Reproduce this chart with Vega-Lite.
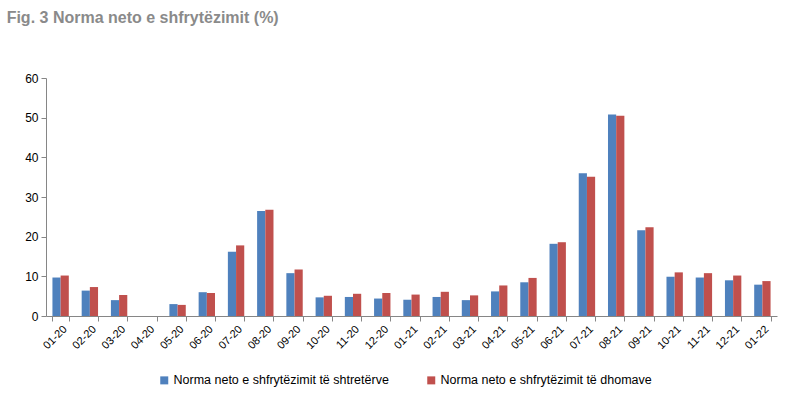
{
  "$schema": "https://vega.github.io/schema/vega-lite/v6.json",
  "autosize": "none",
  "width": 731,
  "height": 238,
  "padding": {"left": 46, "top": 78, "right": 15, "bottom": 97},
  "background": "white",
  "title": {
    "text": "Fig. 3 Norma neto e shfrytëzimit (%)",
    "anchor": "start",
    "frame": "bounds",
    "offset": 46,
    "dx": -18,
    "font": "Liberation Sans",
    "fontSize": 16,
    "fontWeight": "bold",
    "color": "#8a8a8a"
  },
  "config": {
    "view": {"stroke": null},
    "font": "Liberation Sans"
  },
  "data": {
    "values": [
      {"muaji": "01-20", "seria": "Norma neto e shfrytëzimit të shtretërve", "vlera": 9.7},
      {"muaji": "01-20", "seria": "Norma neto e shfrytëzimit të dhomave", "vlera": 10.2},
      {"muaji": "02-20", "seria": "Norma neto e shfrytëzimit të shtretërve", "vlera": 6.4},
      {"muaji": "02-20", "seria": "Norma neto e shfrytëzimit të dhomave", "vlera": 7.3},
      {"muaji": "03-20", "seria": "Norma neto e shfrytëzimit të shtretërve", "vlera": 4.0},
      {"muaji": "03-20", "seria": "Norma neto e shfrytëzimit të dhomave", "vlera": 5.3},
      {"muaji": "04-20", "seria": "Norma neto e shfrytëzimit të shtretërve", "vlera": 0},
      {"muaji": "04-20", "seria": "Norma neto e shfrytëzimit të dhomave", "vlera": 0},
      {"muaji": "05-20", "seria": "Norma neto e shfrytëzimit të shtretërve", "vlera": 3.0},
      {"muaji": "05-20", "seria": "Norma neto e shfrytëzimit të dhomave", "vlera": 2.8},
      {"muaji": "06-20", "seria": "Norma neto e shfrytëzimit të shtretërve", "vlera": 6.0},
      {"muaji": "06-20", "seria": "Norma neto e shfrytëzimit të dhomave", "vlera": 5.8},
      {"muaji": "07-20", "seria": "Norma neto e shfrytëzimit të shtretërve", "vlera": 16.2},
      {"muaji": "07-20", "seria": "Norma neto e shfrytëzimit të dhomave", "vlera": 17.8},
      {"muaji": "08-20", "seria": "Norma neto e shfrytëzimit të shtretërve", "vlera": 26.5},
      {"muaji": "08-20", "seria": "Norma neto e shfrytëzimit të dhomave", "vlera": 26.8},
      {"muaji": "09-20", "seria": "Norma neto e shfrytëzimit të shtretërve", "vlera": 10.8},
      {"muaji": "09-20", "seria": "Norma neto e shfrytëzimit të dhomave", "vlera": 11.7},
      {"muaji": "10-20", "seria": "Norma neto e shfrytëzimit të shtretërve", "vlera": 4.7},
      {"muaji": "10-20", "seria": "Norma neto e shfrytëzimit të dhomave", "vlera": 5.1},
      {"muaji": "11-20", "seria": "Norma neto e shfrytëzimit të shtretërve", "vlera": 4.8},
      {"muaji": "11-20", "seria": "Norma neto e shfrytëzimit të dhomave", "vlera": 5.6},
      {"muaji": "12-20", "seria": "Norma neto e shfrytëzimit të shtretërve", "vlera": 4.4},
      {"muaji": "12-20", "seria": "Norma neto e shfrytëzimit të dhomave", "vlera": 5.8},
      {"muaji": "01-21", "seria": "Norma neto e shfrytëzimit të shtretërve", "vlera": 4.1},
      {"muaji": "01-21", "seria": "Norma neto e shfrytëzimit të dhomave", "vlera": 5.4},
      {"muaji": "02-21", "seria": "Norma neto e shfrytëzimit të shtretërve", "vlera": 4.8},
      {"muaji": "02-21", "seria": "Norma neto e shfrytëzimit të dhomave", "vlera": 6.1},
      {"muaji": "03-21", "seria": "Norma neto e shfrytëzimit të shtretërve", "vlera": 4.0},
      {"muaji": "03-21", "seria": "Norma neto e shfrytëzimit të dhomave", "vlera": 5.2},
      {"muaji": "04-21", "seria": "Norma neto e shfrytëzimit të shtretërve", "vlera": 6.2},
      {"muaji": "04-21", "seria": "Norma neto e shfrytëzimit të dhomave", "vlera": 7.7},
      {"muaji": "05-21", "seria": "Norma neto e shfrytëzimit të shtretërve", "vlera": 8.5},
      {"muaji": "05-21", "seria": "Norma neto e shfrytëzimit të dhomave", "vlera": 9.6},
      {"muaji": "06-21", "seria": "Norma neto e shfrytëzimit të shtretërve", "vlera": 18.2},
      {"muaji": "06-21", "seria": "Norma neto e shfrytëzimit të dhomave", "vlera": 18.6},
      {"muaji": "07-21", "seria": "Norma neto e shfrytëzimit të shtretërve", "vlera": 36.0},
      {"muaji": "07-21", "seria": "Norma neto e shfrytëzimit të dhomave", "vlera": 35.1},
      {"muaji": "08-21", "seria": "Norma neto e shfrytëzimit të shtretërve", "vlera": 50.8},
      {"muaji": "08-21", "seria": "Norma neto e shfrytëzimit të dhomave", "vlera": 50.5},
      {"muaji": "09-21", "seria": "Norma neto e shfrytëzimit të shtretërve", "vlera": 21.6},
      {"muaji": "09-21", "seria": "Norma neto e shfrytëzimit të dhomave", "vlera": 22.4},
      {"muaji": "10-21", "seria": "Norma neto e shfrytëzimit të shtretërve", "vlera": 9.9},
      {"muaji": "10-21", "seria": "Norma neto e shfrytëzimit të dhomave", "vlera": 11.0},
      {"muaji": "11-21", "seria": "Norma neto e shfrytëzimit të shtretërve", "vlera": 9.7},
      {"muaji": "11-21", "seria": "Norma neto e shfrytëzimit të dhomave", "vlera": 10.8},
      {"muaji": "12-21", "seria": "Norma neto e shfrytëzimit të shtretërve", "vlera": 9.0},
      {"muaji": "12-21", "seria": "Norma neto e shfrytëzimit të dhomave", "vlera": 10.2},
      {"muaji": "01-22", "seria": "Norma neto e shfrytëzimit të shtretërve", "vlera": 7.9},
      {"muaji": "01-22", "seria": "Norma neto e shfrytëzimit të dhomave", "vlera": 8.8}
    ]
  },
  "mark": {"type": "bar"},
  "encoding": {
    "x": {
      "field": "muaji",
      "type": "nominal",
      "sort": null,
      "scale": {"paddingInner": 0.44, "paddingOuter": 0.22},
      "axis": {
        "title": null,
        "labelAngle": -45,
        "labelFontSize": 11,
        "labelColor": "#000000",
        "labelFont": "Liberation Sans",
        "domainColor": "#868686",
        "tickColor": "#868686",
        "tickBand": "extent",
        "tickSize": 5,
        "labelPadding": 2
      }
    },
    "xOffset": {
      "field": "seria",
      "type": "nominal",
      "sort": ["Norma neto e shfrytëzimit të shtretërve", "Norma neto e shfrytëzimit të dhomave"],
      "scale": {"paddingInner": 0}
    },
    "y": {
      "field": "vlera",
      "type": "quantitative",
      "scale": {"domain": [0, 60]},
      "axis": {
        "title": null,
        "values": [0, 10, 20, 30, 40, 50, 60],
        "grid": false,
        "labelFontSize": 12,
        "labelColor": "#000000",
        "labelFont": "Liberation Sans",
        "domainColor": "#868686",
        "tickColor": "#868686",
        "tickSize": 5,
        "labelPadding": 3
      }
    },
    "color": {
      "field": "seria",
      "type": "nominal",
      "sort": ["Norma neto e shfrytëzimit të shtretërve", "Norma neto e shfrytëzimit të dhomave"],
      "scale": {
        "domain": ["Norma neto e shfrytëzimit të shtretërve", "Norma neto e shfrytëzimit të dhomave"],
        "range": ["#4F81BD", "#C0504D"]
      },
      "legend": {
        "title": null,
        "orient": "none",
        "legendX": 112,
        "legendY": 296,
        "direction": "horizontal",
        "symbolType": "square",
        "symbolSize": 64,
        "symbolStrokeWidth": 0,
        "labelFontSize": 12.5,
        "labelLimit": 0,
        "labelFont": "Liberation Sans",
        "labelColor": "#000000",
        "columnPadding": 36,
        "labelOffset": 3
      }
    }
  }
}
